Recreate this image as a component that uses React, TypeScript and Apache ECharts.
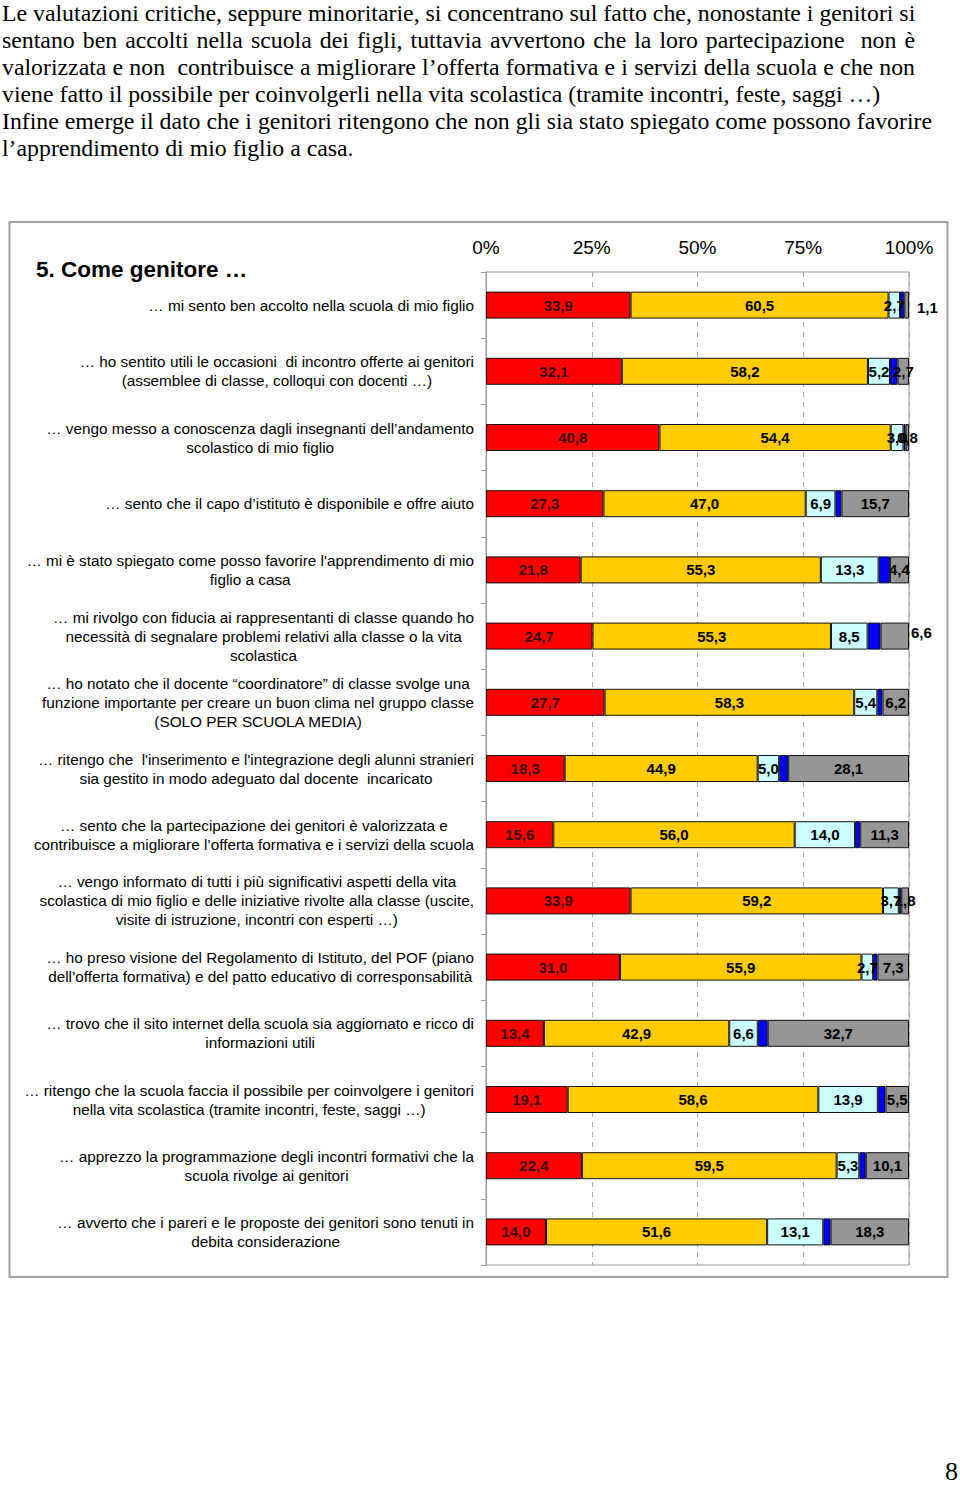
import React, { useEffect, useRef } from "react";
import * as echarts from "echarts";

// ---------- data ----------
const CATEGORIES: string[] = [
  "… mi sento ben accolto nella scuola di mio figlio",
  "… ho sentito utili le occasioni  di incontro offerte ai genitori\n(assemblee di classe, colloqui con docenti …)",
  "… vengo messo a conoscenza dagli insegnanti dell’andamento\nscolastico di mio figlio",
  "… sento che il capo d’istituto è disponibile e offre aiuto",
  "… mi è stato spiegato come posso favorire l'apprendimento di mio\nfiglio a casa",
  "… mi rivolgo con fiducia ai rappresentanti di classe quando ho\nnecessità di segnalare problemi relativi alla classe o la vita\nscolastica",
  "… ho notato che il docente “coordinatore” di classe svolge una\nfunzione importante per creare un buon clima nel gruppo classe\n(SOLO PER SCUOLA MEDIA)",
  "… ritengo che  l'inserimento e l'integrazione degli alunni stranieri\nsia gestito in modo adeguato dal docente  incaricato",
  "… sento che la partecipazione dei genitori è valorizzata e\ncontribuisce a migliorare l’offerta formativa e i servizi della scuola",
  "… vengo informato di tutti i più significativi aspetti della vita\nscolastica di mio figlio e delle iniziative rivolte alla classe (uscite,\nvisite di istruzione, incontri con esperti …)",
  "… ho preso visione del Regolamento di Istituto, del POF (piano\ndell’offerta formativa) e del patto educativo di corresponsabilità",
  "… trovo che il sito internet della scuola sia aggiornato e ricco di\ninformazioni utili",
  "… ritengo che la scuola faccia il possibile per coinvolgere i genitori\nnella vita scolastica (tramite incontri, feste, saggi …)",
  "… apprezzo la programmazione degli incontri formativi che la\nscuola rivolge ai genitori",
  "… avverto che i pareri e le proposte dei genitori sono tenuti in\ndebita considerazione",
];

const RED_VALUES = [33.9, 32.1, 40.8, 27.3, 21.8, 24.7, 27.7, 18.3, 15.6, 33.9, 31.0, 13.4, 19.1, 22.4, 14.0];
const YELLOW_VALUES = [60.5, 58.2, 54.4, 47.0, 55.3, 55.3, 58.3, 44.9, 56.0, 59.2, 55.9, 42.9, 58.6, 59.5, 51.6];
const CYAN_VALUES = [2.7, 5.2, 3.0, 6.9, 13.3, 8.5, 5.4, 5.0, 14.0, 3.7, 2.7, 6.6, 13.9, 5.3, 13.1];
const BLUE_VALUES = [1.0, 1.8, 0.5, 1.4, 2.6, 3.0, 1.2, 2.1, 1.2, 0.6, 1.0, 2.3, 1.8, 1.5, 1.7];
const GRAY_VALUES = [1.1, 2.7, 0.8, 15.7, 4.4, 6.6, 6.2, 28.1, 11.3, 1.8, 7.3, 32.7, 5.5, 10.1, 18.3];

const AXIS_TICKS = [0, 25, 50, 75, 100];

const TITLE = "5. Come genitore …";
const PAGE_NUMBER = "8";

const PARAGRAPH_LINES = [
  "Le valutazioni critiche, seppure minoritarie, si concentrano sul fatto che, nonostante i genitori si",
  "sentano ben accolti nella scuola dei figli, tuttavia avvertono che la loro partecipazione  non è",
  "valorizzata e non  contribuisce a migliorare l’offerta formativa e i servizi della scuola e che non",
  "viene fatto il possibile per coinvolgerli nella vita scolastica (tramite incontri, feste, saggi …)",
  "Infine emerge il dato che i genitori ritengono che non gli sia stato spiegato come possono favorire",
  "l’apprendimento di mio figlio a casa.",
];
const JUSTIFIED_LINES = [0, 1, 2];

// ---------- styles ----------
const SANS = '"Liberation Sans", Arial, Helvetica, sans-serif';
const SERIF = '"Liberation Serif", "Times New Roman", serif';

const SERIES_DEFS = [
  { name: "Molto", values: RED_VALUES, color: "#FF0000", labelColor: "#3a0000", showLabel: true },
  { name: "Abbastanza", values: YELLOW_VALUES, color: "#FFCC00", labelColor: "#000", showLabel: true },
  { name: "Poco", values: CYAN_VALUES, color: "#CCFFFF", labelColor: "#000", showLabel: true },
  { name: "Per niente", values: BLUE_VALUES, color: "#0000FF", labelColor: "#000", showLabel: false },
  { name: "Non so", values: GRAY_VALUES, color: "#969696", labelColor: "#000", showLabel: true },
];

// gray-series labels that sit outside the bar (index -> [distance, dy])
const OUTSIDE_GRAY_LABELS: Record<number, [number, number]> = { 0: [8, 2], 5: [2, -4] };

const fmt = (v: number) => v.toFixed(1).replace(".", ",");

export default function App() {
  const ref = useRef<HTMLDivElement>(null);

  useEffect(() => {
    if (!ref.current) return;
    const chart = echarts.init(ref.current, null, { renderer: "svg" });

    const totals = CATEGORIES.map((_, i) =>
      SERIES_DEFS.reduce((s, d) => s + d.values[i], 0)
    );

    const series = SERIES_DEFS.map((d, si) => ({
      name: d.name,
      type: "bar",
      stack: "total",
      barWidth: 27,
      itemStyle: { color: d.color, borderColor: "#111", borderWidth: 1 },
      label: {
        show: d.showLabel,
        position: "inside",
        color: d.labelColor,
        fontFamily: SANS,
        fontWeight: "bold",
        fontSize: 15,
        formatter: (p: any) => fmt(p.data.raw),
      },
      data: d.values.map((v, i) => {
        const item: any = { value: (v / totals[i]) * 100, raw: v };
        if (si === 4 && OUTSIDE_GRAY_LABELS[i]) {
          const [dist, dy] = OUTSIDE_GRAY_LABELS[i];
          item.label = { position: "right", distance: dist, offset: [0, dy] };
        }
        return item;
      }),
    }));

    chart.setOption({
      animation: false,
      backgroundColor: "transparent",
      title: {
        text: TITLE,
        left: 36,
        top: 258,
        padding: 0,
        textStyle: { fontFamily: SANS, fontWeight: "bold", fontSize: 22.5, color: "#000" },
      },
      grid: {
        left: 486,
        right: 51,
        top: 272,
        bottom: 221,
        show: true,
        borderColor: "#9a9a9a",
        borderWidth: 1,
        backgroundColor: "transparent",
      },
      xAxis: {
        type: "value",
        position: "top",
        min: AXIS_TICKS[0],
        max: AXIS_TICKS[AXIS_TICKS.length - 1],
        interval: AXIS_TICKS[1] - AXIS_TICKS[0],
        axisLine: { show: false },
        axisTick: { show: false },
        axisLabel: {
          formatter: "{value}%",
          fontFamily: SANS,
          fontSize: 19,
          color: "#000",
          margin: 15,
        },
        splitLine: { show: true, lineStyle: { color: "#aaa", type: [5, 5], width: 1 } },
      },
      yAxis: {
        type: "category",
        inverse: true,
        data: CATEGORIES,
        axisLine: { show: true, lineStyle: { color: "#9a9a9a", width: 1 } },
        axisTick: { show: true, length: 5, lineStyle: { color: "#9a9a9a" } },
        axisLabel: {
          margin: 12,
          interval: 0,
          align: "right",
          formatter: (v: string) => v.split("\n").map((l) => `{c|${l}}`).join("\n"),
          rich: {
            c: { align: "center", fontFamily: SANS, fontSize: 15.3, lineHeight: 19, color: "#000" },
          },
        },
      },
      graphic: [
        {
          type: "rect",
          shape: { x: 9.5, y: 222, width: 938, height: 1055 },
          style: { fill: "none", stroke: "#a0a0a0", lineWidth: 2 },
          silent: true,
          z: -1,
        },
        {
          type: "text",
          x: 958,
          y: 1484,
          style: {
            text: PAGE_NUMBER,
            font: `26px ${SERIF}`,
            fill: "#000",
            textAlign: "right",
            textVerticalAlign: "bottom",
          },
        },
      ],
      series,
    });

    return () => chart.dispose();
  }, []);

  return (
    <div
      style={{
        position: "absolute",
        left: 0,
        top: 0,
        width: 960,
        height: 1486,
        background: "#fff",
        overflow: "hidden",
      }}
    >
      <div ref={ref} style={{ position: "absolute", left: 0, top: 0, width: 960, height: 1486 }} />
      <div
        style={{
          position: "absolute",
          left: 2,
          top: 0,
          fontFamily: SERIF,
          fontSize: 23.8,
          lineHeight: "26.9px",
          color: "#000",
        }}
      >
        {PARAGRAPH_LINES.map((line, i) => (
          <div
            key={i}
            style={
              JUSTIFIED_LINES.includes(i)
                ? { width: 913, whiteSpace: "nowrap", textAlign: "justify", textAlignLast: "justify" as any }
                : { whiteSpace: "nowrap" }
            }
          >
            {line.replace(/  /g, "\u00a0 ")}
          </div>
        ))}
      </div>
    </div>
  );
}
